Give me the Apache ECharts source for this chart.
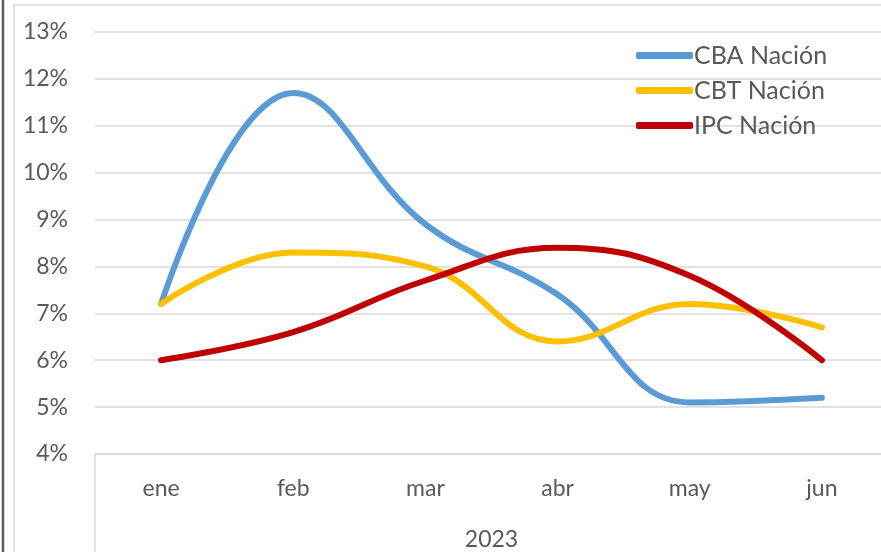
<!DOCTYPE html>
<html>
<head>
<meta charset="utf-8">
<script src="https://cdn.jsdelivr.net/npm/echarts@6/dist/echarts.min.js"></script>
<style>
html,body{margin:0;padding:0;background:#fff;overflow:hidden;}
#wrap{width:881px;height:552px;overflow:hidden;position:relative;}
#chart{width:900px;height:552px;position:absolute;left:0;top:0;}
</style>
</head>
<body>
<div id="wrap"><div id="chart"></div></div>
<script>
const categories = ['ene', 'feb', 'mar', 'abr', 'may', 'jun'];
const yearLabels = ['2023'];
const cbaNacion = [7.2, 11.7, 8.9, 7.4, 5.1, 5.2];
const cbtNacion = [7.2, 8.3, 8.0, 6.4, 7.2, 6.7];
const ipcNacion = [6.0, 6.6, 7.7, 8.4, 7.8, 6.0];
const seriesNames = ['CBA Nación', 'CBT Nación', 'IPC Nación'];
const yMin = 4, yMax = 13, yStep = 1;

const FONT = 'Lato';
const TXT = '#595959';
const GRID = '#d9d9d9';

const chart = echarts.init(document.getElementById('chart'), null, {renderer: 'canvas'});

function lineSeries(name, data, color) {
  return {
    name: name,
    type: 'line',
    data: data,
    smooth: 0.42,
    showSymbol: false,
    symbol: 'none',
    lineStyle: {width: 6, color: color, cap: 'round', join: 'round'},
    itemStyle: {color: color},
    z: 3
  };
}

chart.setOption({
  animation: false,
  backgroundColor: '#fff',
  textStyle: {fontFamily: FONT},
  graphic: [
    {type: 'rect', shape: {x: 14, y: 5, width: 950, height: 600}, style: {fill: 'none', stroke: GRID, lineWidth: 1.5}, silent: true, z: -10},
    {type: 'line', shape: {x1: 3, y1: 0, x2: 3, y2: 552}, style: {stroke: '#5a5a5a', lineWidth: 2.5}, silent: true, z: -10}
  ],
  grid: {left: 95, top: 32, width: 793, height: 422, containLabel: false},
  legend: {
    orient: 'vertical',
    left: 631,
    top: 38,
    itemWidth: 57,
    itemHeight: 7,
    itemGap: 10,
    icon: 'roundRect',
    textStyle: {color: TXT, fontSize: 25, fontFamily: FONT, padding: [0, 0, 0, -4]},
    data: seriesNames
  },
  xAxis: [
    {
      type: 'category',
      data: categories,
      boundaryGap: true,
      axisLine: {show: true, lineStyle: {color: GRID, width: 1.5}},
      axisTick: {show: false},
      axisLabel: {color: TXT, fontSize: 23, fontFamily: FONT, margin: 23},
      splitLine: {show: false}
    },
    {
      type: 'category',
      data: yearLabels,
      position: 'bottom',
      gridIndex: 0,
      boundaryGap: true,
      axisLine: {show: false},
      axisTick: {show: true, length: 100, lineStyle: {color: GRID, width: 1.5}},
      axisLabel: {color: TXT, fontSize: 23, fontFamily: FONT, margin: 74},
      splitLine: {show: false}
    }
  ],
  yAxis: {
    type: 'value',
    min: yMin,
    max: yMax,
    interval: yStep,
    axisLine: {show: false},
    axisTick: {show: false},
    axisLabel: {color: TXT, fontSize: 23, fontFamily: FONT, margin: 27, formatter: '{value}%'},
    splitLine: {show: true, lineStyle: {color: GRID, width: 1.5}}
  },
  series: [
    lineSeries(seriesNames[0], cbaNacion, '#5B9BD5'),
    lineSeries(seriesNames[1], cbtNacion, '#FFC000'),
    lineSeries(seriesNames[2], ipcNacion, '#C00000')
  ]
});
</script>
</body>
</html>
